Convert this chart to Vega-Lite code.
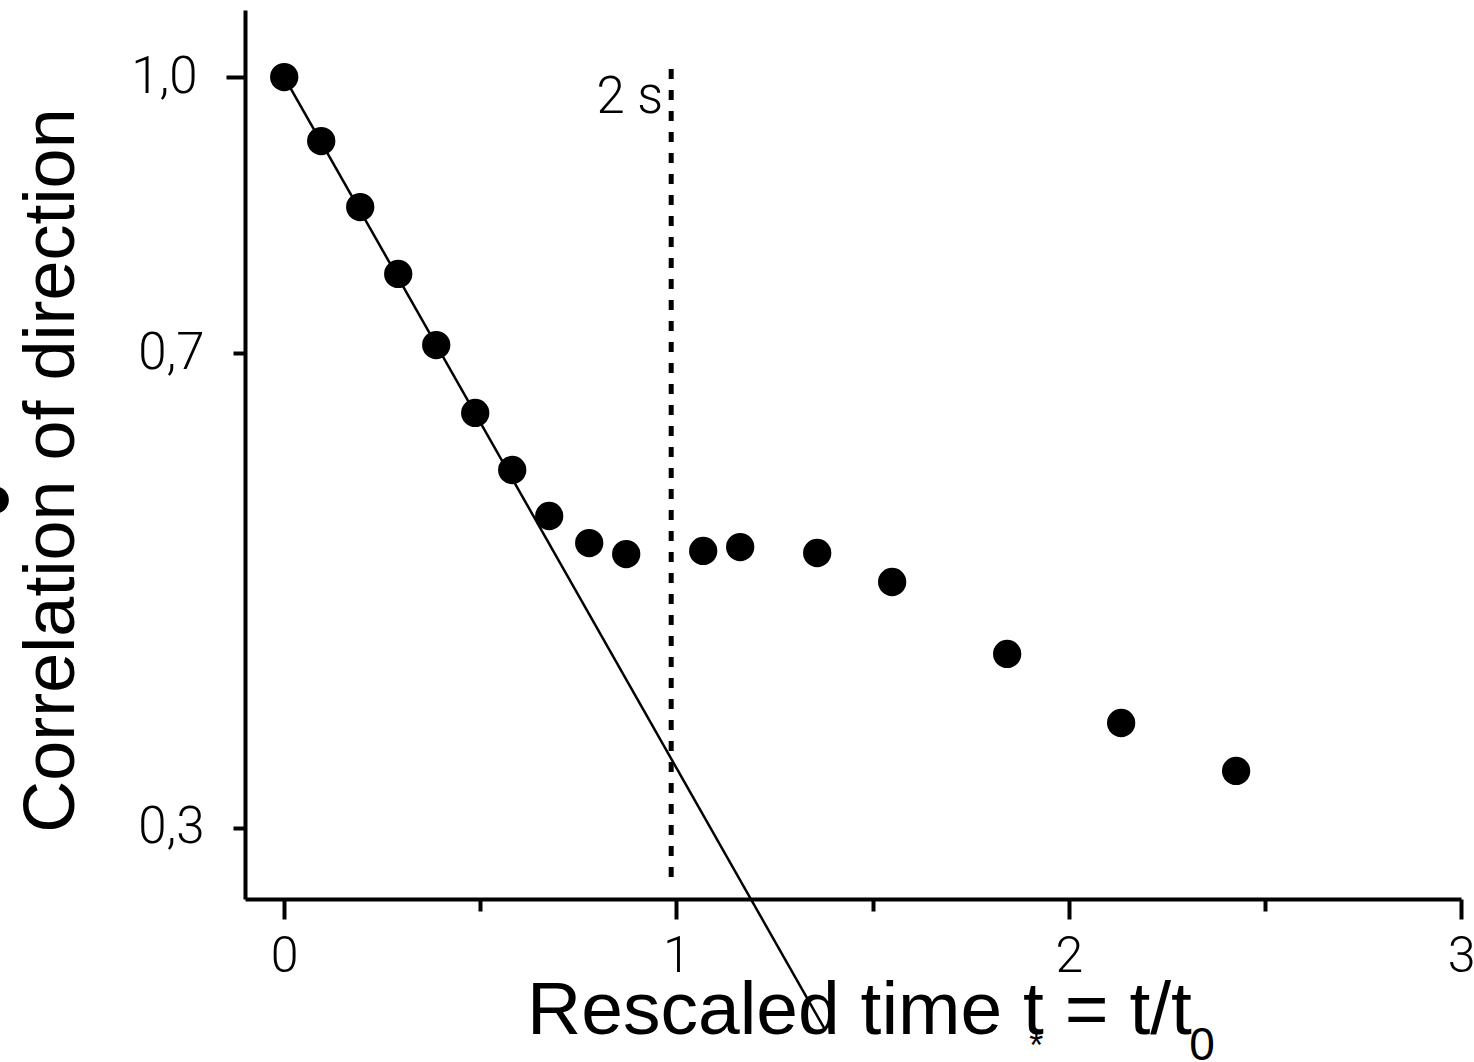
{
  "$schema": "https://vega.github.io/schema/vega-lite/v6.json",
  "width": 1216,
  "height": 889,
  "autosize": {"type": "none"},
  "padding": {"left": 245, "top": 10, "right": 13, "bottom": 163},
  "background": "white",
  "config": {"view": {"stroke": null}},
  "datasets": {
    "points": [
      {"t": 0.0, "c": 1.0},
      {"t": 0.0943, "c": 0.9262},
      {"t": 0.1937, "c": 0.8528},
      {"t": 0.2906, "c": 0.7812},
      {"t": 0.3875, "c": 0.7082},
      {"t": 0.4869, "c": 0.6415},
      {"t": 0.5812, "c": 0.5878},
      {"t": 0.6755, "c": 0.546},
      {"t": 0.7775, "c": 0.5221},
      {"t": 0.8718, "c": 0.5125},
      {"t": 1.0681, "c": 0.5152},
      {"t": 1.1624, "c": 0.5186},
      {"t": 1.3587, "c": 0.5134},
      {"t": 1.5498, "c": 0.4885},
      {"t": 1.843, "c": 0.4291},
      {"t": 2.1336, "c": 0.3754},
      {"t": 2.4267, "c": 0.34}
    ],
    "fit": [
      {"t": 0.0, "c": 1.0},
      {"t": 1.379, "c": 0.1767}
    ],
    "marker": [
      {"t": 0.9865, "c": 0.2674, "c2": 1.0165, "label": "2 s", "cl": 0.9582}
    ],
    "subs": [
      {"t": 1.917, "c": 0.1767, "label": "*"},
      {"t": 2.34, "c": 0.1609, "label": "0"}
    ],
    "edge": [
      {"t": -0.737, "c": 0.5604}
    ]
  },
  "encoding": {
    "x": {
      "field": "t",
      "type": "quantitative",
      "scale": {"domain": [-0.1, 3], "nice": false, "zero": false},
      "axis": {
        "title": "Rescaled time t = t/t",
        "values": [0, 0.5, 1, 1.5, 2, 2.5, 3],
        "labelExpr": "datum.value % 1 == 0 ? format(datum.value, 'd') : ''",
        "labelFont": "Roboto",
        "labelFontWeight": 300,
        "labelFontSize": 50,
        "labelColor": "black",
        "labelPadding": 12,
        "labelFlush": false,
        "labelOverlap": false,
        "tickSize": {"condition": {"test": "datum.value % 1 != 0", "value": 12}, "value": 20},
        "tickWidth": 4,
        "tickColor": "black",
        "domainWidth": 4,
        "domainColor": "black",
        "grid": false,
        "titleFont": "Liberation Sans",
        "titleFontSize": 75,
        "titleFontWeight": "normal",
        "titleColor": "black",
        "titleX": 614,
        "titleY": 134,
        "titleBaseline": "alphabetic",
        "titleAlign": "center"
      }
    },
    "y": {
      "field": "c",
      "type": "quantitative",
      "scale": {"type": "pow", "exponent": 0.55, "domain": [0.2533, 1.08], "nice": false, "zero": false},
      "axis": {
        "title": "Correlation of direction",
        "values": [0.3, 0.7, 1.0],
        "labelExpr": "replace(format(datum.value, '.1f'), '.', ',')",
        "labelFont": "Roboto",
        "labelFontWeight": 300,
        "labelFontSize": 51,
        "labelColor": "black",
        "labelPadding": 29,
        "tickSize": {"condition": {"test": "datum.value == 1", "value": 19}, "value": 12},
        "tickWidth": 4,
        "tickColor": "black",
        "domainWidth": 4,
        "domainColor": "black",
        "grid": false,
        "titleFont": "Liberation Sans",
        "titleFontSize": 72,
        "titleFontWeight": "normal",
        "titleColor": "black",
        "titleAngle": -90,
        "titleBaseline": "alphabetic",
        "titleAlign": "center",
        "titleX": -172,
        "titleY": 460
      }
    }
  },
  "layer": [
    {
      "data": {"name": "fit"},
      "mark": {"type": "line", "color": "black", "strokeWidth": 2.5, "clip": false}
    },
    {
      "data": {"name": "marker"},
      "mark": {"type": "rule", "color": "black", "strokeWidth": 5, "strokeDash": [10, 11], "clip": false},
      "encoding": {"y2": {"field": "c2"}}
    },
    {
      "data": {"name": "marker"},
      "mark": {"type": "text", "align": "right", "baseline": "alphabetic", "dx": -8, "font": "Roboto", "fontWeight": 300, "fontSize": 51, "color": "black", "clip": false},
      "encoding": {"y": {"field": "cl", "type": "quantitative"}, "text": {"field": "label"}}
    },
    {
      "data": {"name": "points"},
      "mark": {"type": "circle", "size": 800, "color": "black", "opacity": 1, "clip": false}
    },
    {
      "data": {"name": "edge"},
      "mark": {"type": "circle", "size": 750, "color": "black", "opacity": 1, "clip": false}
    },
    {
      "data": {"name": "subs"},
      "transform": [{"filter": "datum.label == '*'"}],
      "mark": {"type": "text", "align": "center", "baseline": "top", "font": "Liberation Sans", "fontSize": 36, "color": "black", "clip": false},
      "encoding": {"text": {"field": "label"}}
    },
    {
      "data": {"name": "subs"},
      "transform": [{"filter": "datum.label == '0'"}],
      "mark": {"type": "text", "align": "center", "baseline": "alphabetic", "font": "Liberation Sans", "fontSize": 46, "color": "black", "clip": false},
      "encoding": {"text": {"field": "label"}}
    }
  ]
}
